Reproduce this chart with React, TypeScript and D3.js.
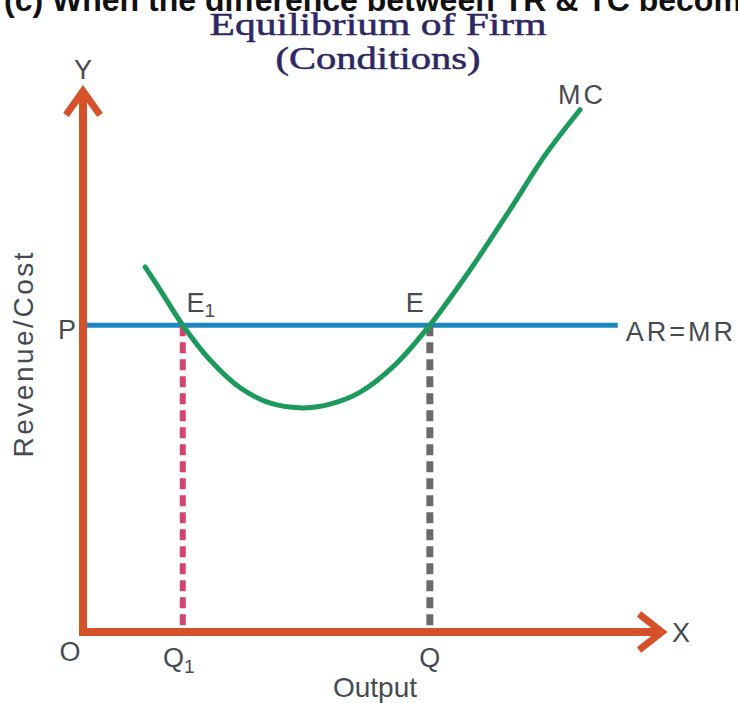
import React from "react";
import * as d3 from "d3";

const W = 738;
const H = 703;

// MC curve points (output, revenue/cost) in data units
const mcOutput = [10.7, 13.3, 17.2, 21.9, 27.1, 32.2, 37.4, 42.6, 47.8, 53.8, 59.8, 66.7, 73.6, 79.7, 85.7];
const mcCost = [67.1, 62.9, 56.4, 50.0, 44.9, 42.1, 41.2, 41.9, 44.1, 49.1, 56.4, 66.5, 77.6, 87.7, 96.0];

const priceP = 56.4;
const arEnd = 92.2;
const qValues = [17.2, 59.8];
const qLabels = ["Q", "Q"];
const qSubs = ["1", ""];
const eLabels = ["E", "E"];
const eSubs = ["1", ""];
const qColors = ["#d2466c", "#6b6b6b"];

const titleLines = ["Equilibrium of Firm", "(Conditions)"];
const titleWidths = [337, 205];
const topText = "(c) When the difference between TR & TC becom";

export default function App() {
  const x = d3.scaleLinear().domain([0, 100]).range([83, 663]);
  const y = d3.scaleLinear().domain([0, 100]).range([632, 88]);

  const mcData = mcOutput.map((o, i) => [o, mcCost[i]] as [number, number]);
  const line = d3
    .line<[number, number]>()
    .x((d) => x(d[0]))
    .y((d) => y(d[1]))
    .curve(d3.curveCatmullRom.alpha(0.5));

  const axisColor = "#d4512a";
  const labelColor = "#464b52";
  const font = "'Liberation Sans', Arial, sans-serif";

  const x0 = x(0);
  const y0 = y(0);
  const yTop = y(100);
  const xEnd = x(100);

  return (
    <div style={{ position: "fixed", left: 0, top: 0, width: W, height: H, overflow: "hidden" }}>
      <svg width={W} height={H} style={{ display: "block", background: "#fff" }}>
        <text x={4} y={11} fontFamily={font} fontWeight="bold" fontSize={32} fill="#111">
          {topText}
        </text>
        {titleLines.map((t, i) => (
          <text
            key={i}
            x={378 - titleWidths[i] / 2}
            y={35 + i * 34}
            textLength={titleWidths[i]}
            lengthAdjust="spacingAndGlyphs"
            fontFamily="'Liberation Serif', 'DejaVu Serif', serif"
            fontSize={31}
            fill="#2d2764"
            stroke="#2d2764"
            strokeWidth={0.5}
          >
            {t}
          </text>
        ))}

        {/* AR=MR line */}
        <line x1={x0} x2={x(arEnd)} y1={y(priceP)} y2={y(priceP)} stroke="#1e86be" strokeWidth={5} />

        {/* dashed drop lines */}
        {qValues.map((q, i) => (
          <line
            key={i}
            x1={x(q)}
            x2={x(q)}
            y1={y(priceP)}
            y2={y0}
            stroke={qColors[i]}
            strokeWidth={i === 0 ? 6 : 7}
            strokeDasharray="11 6"
          />
        ))}

        {/* MC curve */}
        <path d={line(mcData) || ""} fill="none" stroke="#1b9a5c" strokeWidth={5} strokeLinecap="round" />

        {/* axes */}
        <line x1={x0} x2={x0} y1={y0 + 3} y2={yTop + 2} stroke={axisColor} strokeWidth={8} />
        <line x1={x0 - 4} x2={xEnd - 2} y1={y0} y2={y0} stroke={axisColor} strokeWidth={8} />
        <polyline
          points={`${x0 - 17},${yTop + 27} ${x0},${yTop + 3} ${x0 + 17},${yTop + 27}`}
          fill="none"
          stroke={axisColor}
          strokeWidth={7}
          strokeLinejoin="miter"
        />
        <polyline
          points={`${xEnd - 24},${y0 - 18} ${xEnd - 1},${y0} ${xEnd - 24},${y0 + 18}`}
          fill="none"
          stroke={axisColor}
          strokeWidth={7}
          strokeLinejoin="miter"
        />

        {/* labels */}
        <g fontFamily={font} fill={labelColor} fontSize={27}>
          <text x={x0} y={yTop - 9} textAnchor="middle">Y</text>
          <text x={xEnd + 18} y={y0 + 10} textAnchor="middle">X</text>
          <text x={x0 - 13} y={y0 + 29} textAnchor="middle">O</text>
          <text x={x0 - 16} y={y(priceP) + 14} textAnchor="middle">P</text>
          <text x={x(arEnd) + 8} y={y(priceP) + 16} letterSpacing={3}>AR=MR</text>
          <text x={582} y={y(100) + 16} textAnchor="middle" letterSpacing={3}>MC</text>
          {qValues.map((q, i) => (
            <g key={i}>
              <text x={x(q) + (i === 0 ? -4 : 0)} y={y0 + 35} textAnchor="middle">
                {qLabels[i]}
                {qSubs[i] && <tspan fontSize={19} dy={6}>{qSubs[i]}</tspan>}
              </text>
              <text x={x(q) + (i === 0 ? 18 : -15)} y={y(priceP) - 13} textAnchor="middle">
                {eLabels[i]}
                {eSubs[i] && <tspan fontSize={19} dy={5}>{eSubs[i]}</tspan>}
              </text>
            </g>
          ))}
          <text x={375} y={697} textAnchor="middle" fontSize={28}>Output</text>
          <text
            transform={`translate(33, ${355}) rotate(-90)`}
            textAnchor="middle"
            fontSize={28}
            textLength={205}
            lengthAdjust="spacing"
          >
            Revenue/Cost
          </text>
        </g>
      </svg>
    </div>
  );
}
